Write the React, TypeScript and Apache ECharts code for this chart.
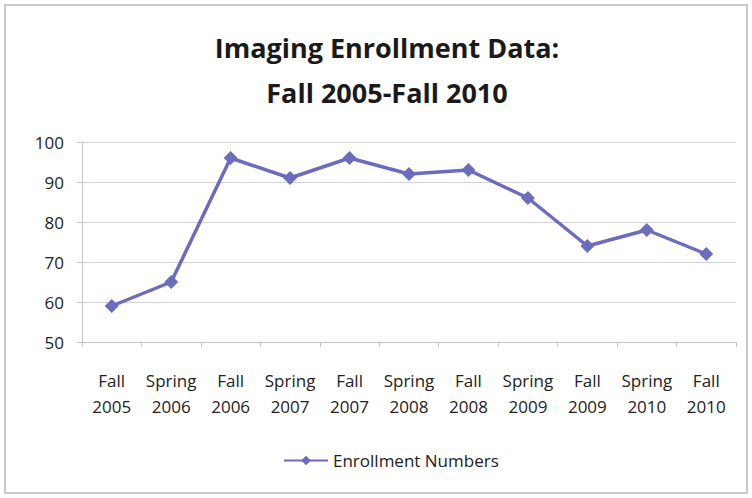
import React, { useEffect, useRef } from "react";
import * as echarts from "echarts";

const categories = [
  "Fall\n2005", "Spring\n2006", "Fall\n2006", "Spring\n2007", "Fall\n2007", "Spring\n2008",
  "Fall\n2008", "Spring\n2009", "Fall\n2009", "Spring\n2010", "Fall\n2010",
];
const enrollment = [59, 65, 96, 91, 96, 92, 93, 86, 74, 78, 72];
const seriesName = "Enrollment Numbers";
const titleText = "Imaging Enrollment Data:\nFall 2005-Fall 2010";

const FONT = "'Open Sans', 'Noto Sans', sans-serif";
const COLOR = "#6c6cbf";

export default function App() {
  const ref = useRef<HTMLDivElement>(null);
  useEffect(() => {
    const chart = echarts.init(ref.current!, null, { renderer: "svg" });
    chart.setOption({
      animation: false,
      backgroundColor: "#ffffff",
      title: {
        text: titleText,
        left: 382,
        textAlign: "center",
        top: 20,
        textStyle: {
          fontFamily: FONT,
          fontSize: 27,
          fontWeight: "bold",
          color: "#1a1a1a",
          lineHeight: 45,
        },
      },
      graphic: [
        {
          type: "rect",
          shape: { x: 5, y: 5, width: 742, height: 488 },
          style: { fill: "none", stroke: "#b8b8b8", lineWidth: 1.5 },
          silent: true,
          z: -1,
        },
      ],
      grid: { left: 82, right: 16, top: 142, bottom: 156, containLabel: false },
      xAxis: {
        type: "category",
        data: categories,
        boundaryGap: true,
        axisLine: { lineStyle: { color: "#c4c4c4" } },
        axisTick: { show: true, alignWithLabel: false, length: 5, lineStyle: { color: "#c4c4c4" } },
        axisLabel: {
          fontFamily: FONT,
          fontSize: 17,
          color: "#222",
          lineHeight: 26,
          margin: 25,
          interval: 0,
        },
      },
      yAxis: {
        type: "value",
        min: 50,
        max: 100,
        interval: 10,
        axisLine: { show: true, lineStyle: { color: "#c4c4c4" } },
        axisTick: { show: true, length: 5, lineStyle: { color: "#c4c4c4" } },
        splitLine: { lineStyle: { color: "#d2d2de" } },
        axisLabel: { fontFamily: FONT, fontSize: 17, color: "#222", margin: 18 },
      },
      legend: {
        data: [seriesName],
        bottom: 24,
        left: 278,
        itemWidth: 44,
        itemHeight: 12,
        itemGap: 4,
        textStyle: { fontFamily: FONT, fontSize: 17, color: "#222" },
      },
      series: [
        {
          name: seriesName,
          type: "line",
          data: enrollment,
          symbol: "diamond",
          symbolSize: 14,
          lineStyle: { color: COLOR, width: 3.5 },
          itemStyle: { color: COLOR },
        },
      ],
    });
    return () => chart.dispose();
  }, []);
  return (
    <div
      ref={ref}
      style={{ position: "fixed", left: 0, top: 0, width: 752, height: 498 }}
    />
  );
}
